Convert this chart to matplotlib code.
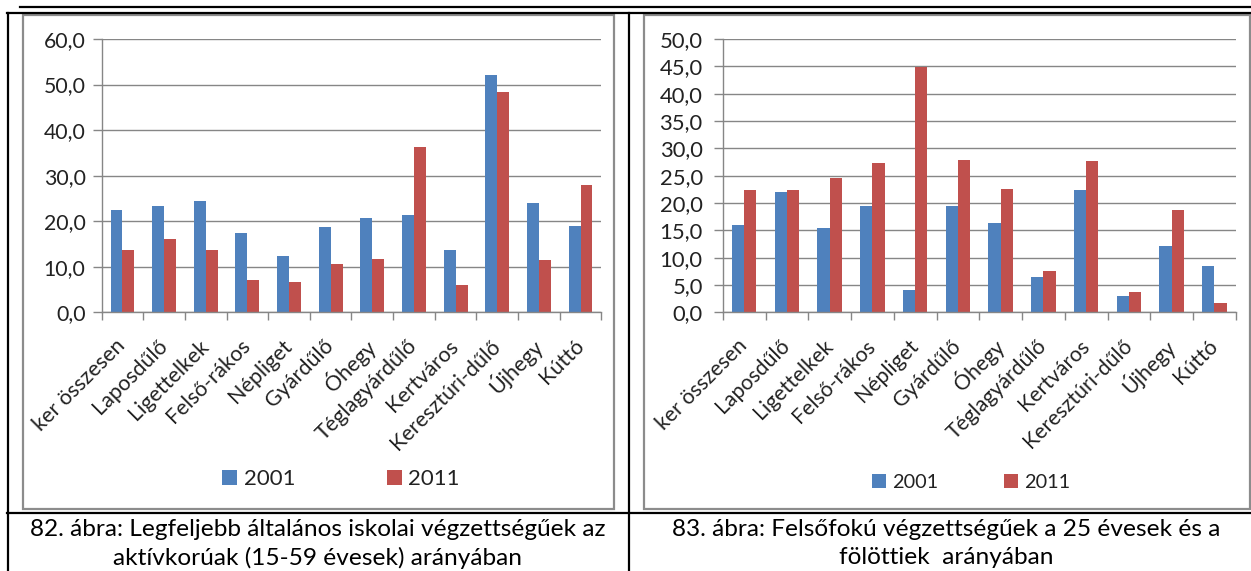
import numpy as np
import matplotlib
matplotlib.use("Agg")
import matplotlib.pyplot as plt
from matplotlib.lines import Line2D
from matplotlib.patches import Rectangle
from matplotlib.ticker import FuncFormatter

plt.rcParams['font.family'] = ['Lato', 'DejaVu Sans']

# városrészek (közös kategóriák mindkét ábrán)
categories = ["ker összesen", "Laposdűlő", "Ligettelkek", "Felső-rákos", "Népliget",
              "Gyárdűlő", "Óhegy", "Téglagyárdűlő", "Kertváros", "Keresztúri-dűlő",
              "Újhegy", "Kúttó"]
years = ["2001", "2011"]

# 82. ábra: legfeljebb általános iskolai végzettségűek, %
alap_2001 = [22.4, 23.3, 24.4, 17.3, 12.3, 18.7, 20.7, 21.3, 13.7, 52.2, 24.1, 19.0]
alap_2011 = [13.7, 16.0, 13.7, 7.2, 6.6, 10.5, 11.7, 36.2, 6.1, 48.3, 11.4, 28.0]

# 83. ábra: felsőfokú végzettségűek, %
felso_2001 = [16.0, 22.0, 15.4, 19.4, 4.1, 19.4, 16.3, 6.5, 22.4, 3.0, 12.1, 8.5]
felso_2011 = [22.4, 22.4, 24.5, 27.3, 44.8, 27.8, 22.6, 7.6, 27.6, 3.8, 18.7, 1.7]

caption_left = ["82. ábra: Legfeljebb általános iskolai végzettségűek az",
                "aktívkorúak (15-59 évesek) arányában"]
caption_right = ["83. ábra: Felsőfokú végzettségűek a 25 évesek és a",
                 "fölöttiek  arányában"]

BLUE = "#4F81BD"
RED = "#C0504D"
GRID = "#868686"
TEXT = "#222222"

W, H = 1251, 571
fig = plt.figure(figsize=(W / 100, H / 100), dpi=100)


def fx(x):
    return x / W


def fy(y):
    return 1 - y / H


def comma_fmt(v, pos):
    return f"{v:.1f}".replace(".", ",")


def bar_chart(rect, v1, v2, ymax, ystep, ypad, yfs, xfs, legend_pos, legend_fs, colspace, sq):
    x0, y0, x1, y1 = rect
    ax = fig.add_axes([fx(x0), fy(y1), (x1 - x0) / W, (y1 - y0) / H])
    n = len(categories)
    idx = np.arange(n)
    w = 1 / 3.5
    b1 = ax.bar(idx - w / 2, v1, width=w, color=BLUE, linewidth=0, label=years[0])
    b2 = ax.bar(idx + w / 2, v2, width=w, color=RED, linewidth=0, label=years[1])

    ax.set_xlim(-0.5, n - 0.5)
    ax.set_ylim(0, ymax)
    ax.set_yticks(np.arange(0, ymax + 0.01, ystep))
    ax.yaxis.set_major_formatter(FuncFormatter(comma_fmt))
    ax.yaxis.grid(True, color=GRID, linewidth=1)
    ax.set_axisbelow(True)

    ax.set_xticks(np.arange(n + 1) - 0.5)
    ax.set_xticklabels([])
    ax.set_xticks(idx, minor=True)
    ax.set_xticklabels(categories, minor=True, rotation=45, ha="right",
                       va="center", rotation_mode="anchor", fontsize=xfs, color=TEXT)
    ax.tick_params(axis="x", which="major", length=6, color=GRID, width=1)
    ax.tick_params(axis="x", which="minor", length=0, pad=22)
    ax.tick_params(axis="y", length=6.5, color=GRID, width=1, pad=ypad,
                   labelsize=yfs, labelcolor=TEXT)

    for s in ("top", "right"):
        ax.spines[s].set_visible(False)
    for s in ("left", "bottom"):
        ax.spines[s].set_color(GRID)
        ax.spines[s].set_linewidth(1)

    fig.legend([b1, b2], years, loc="center", bbox_to_anchor=legend_pos,
               bbox_transform=fig.transFigure, ncol=2, frameon=False,
               fontsize=legend_fs, handlelength=sq, handleheight=sq,
               handletextpad=0.3, columnspacing=colspace, labelcolor=TEXT)
    return ax


bar_chart((101.6, 39, 601.4, 312.3), alap_2001, alap_2011, 60, 10, 5, 15.3, 15.5,
          (fx(341), fy(479)), 16, 4.1, 0.68)
bar_chart((722.8, 39, 1235.8, 312.3), felso_2001, felso_2011, 50, 5, 8, 15.8, 15.3,
          (fx(971), fy(482)), 14.3, 3.3, 0.7)

# táblázat keretei
black = dict(color="black", linewidth=1.6, transform=fig.transFigure)
for (xa, ya, xb, yb) in [(20, 7, W, 7), (7, 13, W, 13), (7.5, 13, 7.5, H),
                         (628.5, 13, 628.5, H), (7, 512.5, W, 512.5)]:
    fig.add_artist(Line2D([fx(xa), fx(xb)], [fy(ya), fy(yb)], **black))

# diagramok szürke kerete
for (xa, ya, xb, yb) in [(23, 14.5, 614, 509), (644, 14.5, 1249.5, 509)]:
    fig.add_artist(Rectangle((fx(xa), fy(yb)), (xb - xa) / W, (yb - ya) / H,
                             fill=False, edgecolor="#8c8c8c", linewidth=1.6,
                             transform=fig.transFigure))

# ábracímek
for cx, lines in [(318, caption_left), (946, caption_right)]:
    for i, line in enumerate(lines):
        fig.text(fx(cx), fy(529 + 29 * i), line, ha="center", va="center",
                 fontsize=17.6, color="black")

fig.savefig("out.png", dpi=100)
